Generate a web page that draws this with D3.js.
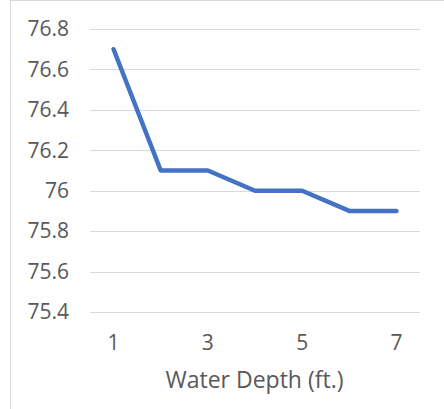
<!DOCTYPE html>
<html>
<head>
<meta charset="utf-8">
<script src="https://cdn.jsdelivr.net/npm/d3@7"></script>
<style>
  html, body { margin: 0; padding: 0; background: #fff; }
  svg { display: block; font-family: 'Open Sans', sans-serif; }
</style>
</head>
<body>
<svg class="line-chart"></svg>
<script>
'use strict';

// chart data
var depths = [1, 2, 3, 4, 5, 6, 7];
var temps = [76.7, 76.1, 76.1, 76.0, 76.0, 75.9, 75.9];
var yTicks = [75.4, 75.6, 75.8, 76, 76.2, 76.4, 76.6, 76.8];
var xTickLabels = [1, 3, 5, 7];
var xTitle = 'Water Depth (ft.)';

var svgWidth = 444,
    svgHeight = 409,
    margin = { top: 29, right: 24, bottom: 97, left: 90 };

var svg = d3.select('svg.line-chart')
    .attr('width', svgWidth)
    .attr('height', svgHeight);

// frame of the chart area
svg.append('line')
    .attr('x1', 10.5).attr('x2', 10.5)
    .attr('y1', 0).attr('y2', svgHeight)
    .attr('stroke', '#d9d9d9');
svg.append('line')
    .attr('x1', 10).attr('x2', svgWidth)
    .attr('y1', 0.5).attr('y2', 0.5)
    .attr('stroke', '#d9d9d9');

var xScale = d3.scaleBand()
    .domain(depths)
    .range([margin.left, svgWidth - margin.right]);

var yScale = d3.scaleLinear()
    .domain([75.4, 76.8])
    .range([svgHeight - margin.bottom, margin.top]);

// gridlines
svg.append('g')
    .selectAll('line')
    .data(yTicks)
    .enter()
    .append('line')
    .attr('x1', margin.left)
    .attr('x2', svgWidth - margin.right)
    .attr('y1', function(d) { return Math.round(yScale(d)) + 0.5; })
    .attr('y2', function(d) { return Math.round(yScale(d)) + 0.5; })
    .attr('stroke', '#d9d9d9')
    .attr('stroke-width', 1);

// y axis labels
var yAxis = d3.axisLeft(yScale)
    .tickValues(yTicks)
    .tickSize(0)
    .tickPadding(0)
    .tickFormat(function(d) { return String(+d.toFixed(1)); });

var yG = svg.append('g')
    .attr('transform', 'translate(69,0)')
    .call(yAxis);
yG.select('.domain').remove();
yG.selectAll('text')
    .attr('fill', '#595959')
    .style('font-size', '21px')
    .style('font-family', "'Open Sans', sans-serif");

// x axis labels
var xAxis = d3.axisBottom(xScale)
    .tickValues(xTickLabels)
    .tickSize(0)
    .tickPadding(0);

var xG = svg.append('g')
    .attr('transform', 'translate(0,335)')
    .call(xAxis);
xG.select('.domain').remove();
xG.selectAll('text')
    .attr('fill', '#595959')
    .style('font-size', '21px')
    .style('font-family', "'Open Sans', sans-serif");

// axis title
svg.append('text')
    .attr('x', 254.5)
    .attr('y', 388)
    .attr('text-anchor', 'middle')
    .attr('fill', '#595959')
    .style('font-size', '23px')
    .text(xTitle);

// the line
var line = d3.line()
    .x(function(d, i) { return xScale(depths[i]) + xScale.bandwidth() / 2; })
    .y(function(d) { return yScale(d); });

svg.append('path')
    .attr('d', line(temps))
    .attr('fill', 'none')
    .attr('stroke', '#4472c4')
    .attr('stroke-width', 4.5)
    .attr('stroke-linejoin', 'round')
    .attr('stroke-linecap', 'round');
</script>
</body>
</html>
